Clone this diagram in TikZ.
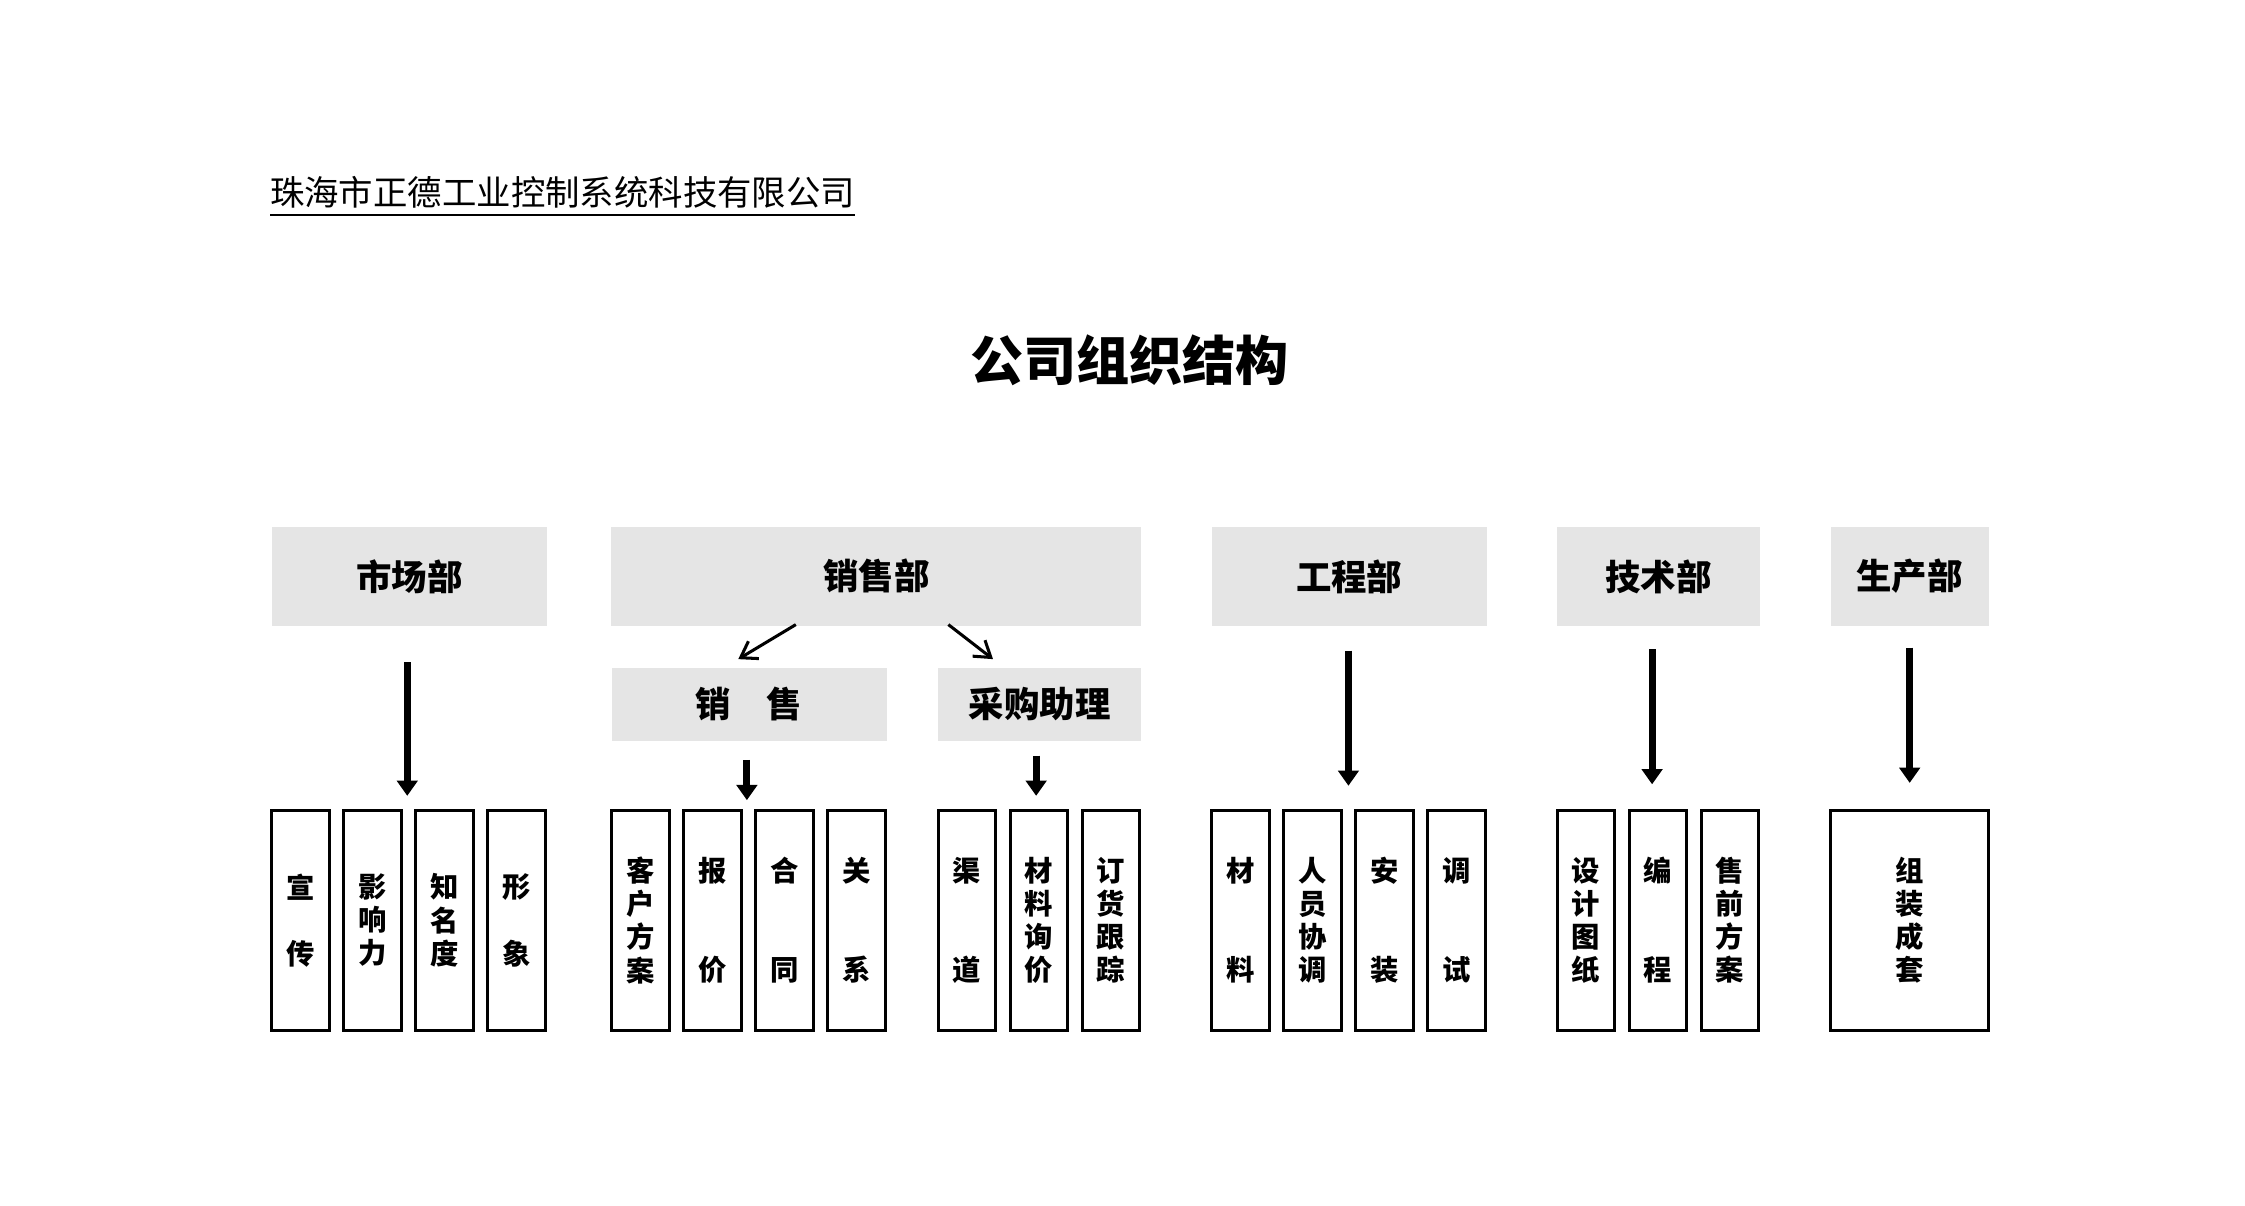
\documentclass[tikz,border=0pt]{standalone}
\usepackage{fontspec}
\setmainfont{Noto Sans CJK SC}
\usetikzlibrary{arrows.meta}
\begin{document}
\begin{tikzpicture}[x=0.01cm,y=-0.01cm,
 hd/.style={fill=black!10,draw=none,inner sep=0pt,font=\fontsize{7}{8}\selectfont\bfseries},
 bx/.style={draw,line width=0.6pt,minimum width=0.4cm,minimum height=1.53cm,inner sep=0pt,align=center,font=\fontsize{5.6}{6.55}\selectfont\bfseries},
 arr/.style={line width=1.4pt,-{Triangle[length=3pt,width=4pt]}},
 thin/.style={line width=0.6pt,-{Straight Barb[length=3pt,width=4pt]}}]
\useasboundingbox (0,0) rectangle (1560,838);
\node[anchor=west,inner sep=0pt,font=\fontsize{6.8}{8}\selectfont] (co) at (187,137) {\underline{珠海市正德工业控制系统科技有限公司}};
\node[font=\fontsize{10.5}{12}\selectfont\bfseries] (title) at (785,250) {公司组织结构};
% top row
\node[hd,minimum width=1.91cm,minimum height=0.69cm] (sc) at (284.5,400.5) {市场部};
\node[hd,minimum width=3.68cm,minimum height=0.69cm] (xs) at (609,400.5) {销售部};
\node[hd,minimum width=1.91cm,minimum height=0.69cm] (gc) at (937.5,400.5) {工程部};
\node[hd,minimum width=1.41cm,minimum height=0.69cm] (js) at (1152.5,400.5) {技术部};
\node[hd,minimum width=1.10cm,minimum height=0.69cm] (scb) at (1327,400.5) {生产部};
% second row
\node[hd,minimum width=1.91cm,minimum height=0.51cm] (xs2) at (520.5,489.5) {销\quad 售};
\node[hd,minimum width=1.41cm,minimum height=0.51cm] (cg) at (722.5,489.5) {采购助理};
% bottom boxes
\node[bx] (a1) at (209,639.5) {宣\\~\\传};
\node[bx] (a2) at (259,639.5) {影\\响\\力};
\node[bx] (a3) at (309,639.5) {知\\名\\度};
\node[bx] (a4) at (359,639.5) {形\\~\\象};
\node[bx] (b1) at (445,639.5) {客\\户\\方\\案};
\node[bx] (b2) at (495,639.5) {报\\~\\~\\价};
\node[bx] (b3) at (545,639.5) {合\\~\\~\\同};
\node[bx] (b4) at (595,639.5) {关\\~\\~\\系};
\node[bx] (c1) at (672,639.5) {渠\\~\\~\\道};
\node[bx] (c2) at (722,639.5) {材\\料\\询\\价};
\node[bx] (c3) at (772,639.5) {订\\货\\跟\\踪};
\node[bx] (d1) at (862,639.5) {材\\~\\~\\料};
\node[bx] (d2) at (912,639.5) {人\\员\\协\\调};
\node[bx] (d3) at (962,639.5) {安\\~\\~\\装};
\node[bx] (d4) at (1012,639.5) {调\\~\\~\\试};
\node[bx] (e1) at (1102,639.5) {设\\计\\图\\纸};
\node[bx] (e2) at (1152,639.5) {编\\~\\~\\程};
\node[bx] (e3) at (1202,639.5) {售\\前\\方\\案};
\node[bx,minimum width=1.10cm] (f1) at (1327,639.5) {组\\装\\成\\套};
% arrows
\draw[arr] (283,460) -- (283,553);
\draw[arr] (519,528) -- (519,556);
\draw[arr] (720,525) -- (720,553);
\draw[arr] (937,452) -- (937,546);
\draw[arr] (1148,451) -- (1148,545);
\draw[arr] (1327,450) -- (1327,544);
\draw[thin] (553,434) -- (513,458);
\draw[thin] (659,434) -- (690,458);
\end{tikzpicture}
\end{document}
